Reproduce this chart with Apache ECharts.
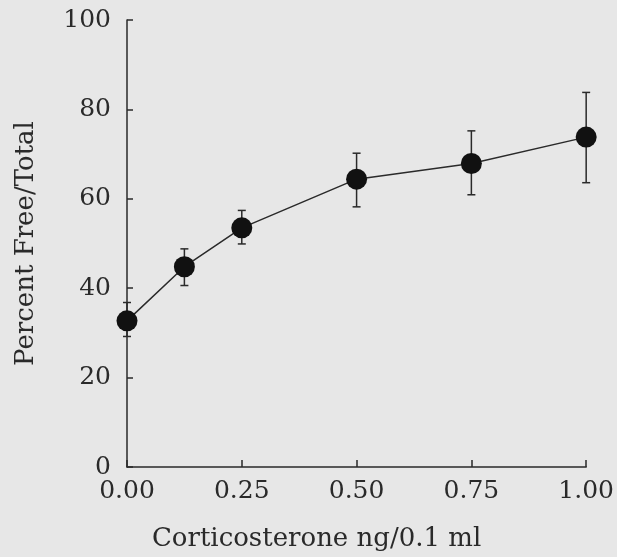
<!DOCTYPE html>
<html><head><meta charset="utf-8">
<script src="https://cdn.jsdelivr.net/npm/echarts@6/dist/echarts.min.js"></script>
<style>html,body{margin:0;padding:0;background:#e7e7e7}#c{width:617px;height:557px}</style>
</head><body><div id="c"></div>
<script>
var doses = [0, 0.125, 0.25, 0.5, 0.75, 1.0];
var means = [32.7, 44.8, 53.5, 64.4, 67.9, 73.8];
var errLow = [29.2, 40.6, 49.9, 58.2, 60.9, 63.6];
var errHigh = [36.8, 48.8, 57.4, 70.2, 75.2, 83.8];
var xTicks = ['0.00', '0.25', '0.50', '0.75', '1.00'];
var yTicks = ['0', '20', '40', '60', '80', '100'];

var font = 'DejaVu Serif';
var ink = '#2a2a2a';
var chart = echarts.init(document.getElementById('c'));
chart.setOption({
  backgroundColor: '#e7e7e7',
  animation: false,
  grid: {left: 127, right: 30, top: 20, bottom: 90},
  xAxis: {
    type: 'value', min: 0, max: 1, interval: 0.25,
    name: 'Corticosterone ng/0.1 ml', nameLocation: 'middle', nameGap: 59,
    nameTextStyle: {fontFamily: font, fontSize: 26, color: ink, padding: [0, 80, 0, 0]},
    axisLine: {lineStyle: {color: ink, width: 1.5}},
    axisTick: {inside: true, length: 7, lineStyle: {color: ink, width: 1.5}},
    axisLabel: {margin: 12, fontFamily: font, fontSize: 25, color: ink,
      formatter: function (v) { return xTicks[Math.round(v / 0.25)]; }},
    splitLine: {show: false}
  },
  yAxis: {
    type: 'value', min: 0, max: 100, interval: 20,
    name: 'Percent Free/Total', nameLocation: 'middle', nameGap: 88,
    nameTextStyle: {fontFamily: font, fontSize: 26, color: ink},
    axisLine: {show: true, lineStyle: {color: ink, width: 1.5}},
    axisTick: {show: true, inside: true, length: 6, lineStyle: {color: ink, width: 1.5}},
    axisLabel: {margin: 16, fontFamily: font, fontSize: 25, color: ink,
      formatter: function (v) { return yTicks[Math.round(v / 20)]; }},
    splitLine: {show: false}
  },
  series: [
    {
      type: 'custom',
      data: doses.map(function (d, i) { return [d, errLow[i], errHigh[i]]; }),
      renderItem: function (params, api) {
        var lo = api.coord([api.value(0), api.value(1)]);
        var hi = api.coord([api.value(0), api.value(2)]);
        var w = 4;
        var st = {stroke: ink, lineWidth: 1.5};
        return {type: 'group', children: [
          {type: 'line', shape: {x1: lo[0], y1: lo[1], x2: hi[0], y2: hi[1]}, style: st},
          {type: 'line', shape: {x1: lo[0] - w, y1: lo[1], x2: lo[0] + w, y2: lo[1]}, style: st},
          {type: 'line', shape: {x1: hi[0] - w, y1: hi[1], x2: hi[0] + w, y2: hi[1]}, style: st}
        ]};
      },
      z: 2
    },
    {
      type: 'line',
      data: doses.map(function (d, i) { return [d, means[i]]; }),
      symbol: 'circle', symbolSize: 21,
      lineStyle: {color: ink, width: 1.5},
      itemStyle: {color: '#111'},
      z: 3
    }
  ]
});
</script></body></html>
